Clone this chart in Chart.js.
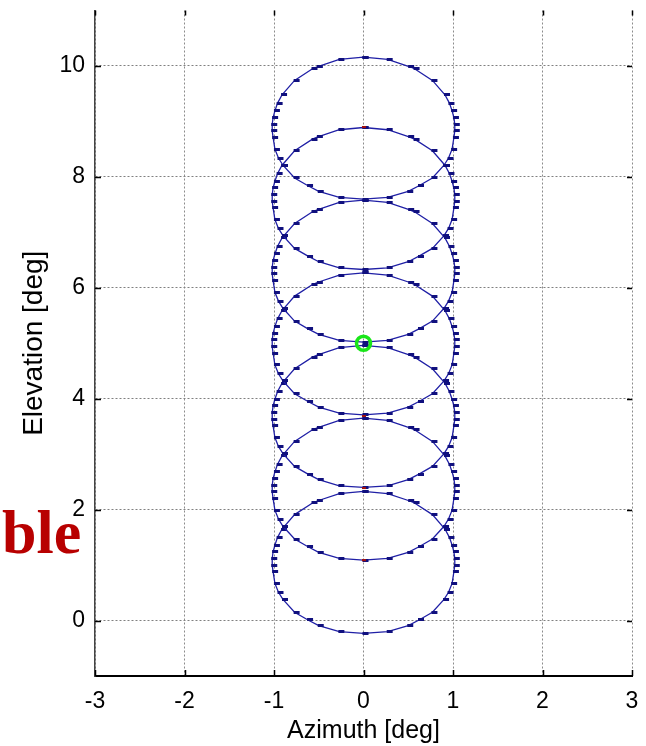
<!DOCTYPE html>
<html>
<head>
    <title>Scan Pattern</title>
    <script src="https://cdn.jsdelivr.net/npm/chart.js"></script>
    <style>
        body { margin: 0; background: #fff; }
    </style>
</head>
<body>
    <canvas id="myChart" width="646" height="746"></canvas>

    <script>
        // axis ticks
        const azTicks = [-3, -2, -1, 0, 1, 2, 3];
        const elTicks = [0, 2, 4, 6, 8, 10];

        // elevation of each scan loop centre, top to bottom
        const loopCenters = [8.89, 7.62, 6.31, 5.00, 3.69, 2.38, 1.06];

        // one scan loop as offsets from its centre (deg), clockwise from the top
        const loopAz = [0.00, 0.27, 0.51, 0.57, 0.77, 0.91, 0.96, 0.99, 1.01, 1.02, 1.02, 1.01, 0.99, 0.95, 0.90,
                        0.77, 0.62, 0.50, 0.27, 0.00, -0.27, -0.50, -0.62, -0.77, -0.90, -0.95, -0.99, -1.01,
                        -1.02, -1.02, -1.01, -0.99, -0.96, -0.91, -0.77, -0.57, -0.51, -0.27, 0.00];
        const loopEl = [1.27, 1.23, 1.10, 1.06, 0.85, 0.59, 0.44, 0.30, 0.18, 0.06, -0.06, -0.18, -0.39, -0.55, -0.68,
                        -0.91, -1.05, -1.15, -1.26, -1.29, -1.26, -1.15, -1.05, -0.91, -0.68, -0.55, -0.39, -0.18,
                        -0.06, 0.06, 0.18, 0.30, 0.44, 0.59, 0.85, 1.06, 1.10, 1.23, 1.27];

        // loop start samples
        const startAz = [0, 0, 0, 0];
        const startEl = [8.89, 3.68, 2.38, 1.08];

        // boresight
        const boreAz = [0];
        const boreEl = [5.0];

        const lineBlue = '#2020a6';

        // small dash marker for the scan samples
        const dash = document.createElement('canvas');
        dash.width = 12;
        dash.height = 3;
        const dctx = dash.getContext('2d');
        dctx.fillStyle = '#10107e';
        dctx.fillRect(5, 0, 6, 3);

        const redDot = document.createElement('canvas');
        redDot.width = 4;
        redDot.height = 3;
        const rctx = redDot.getContext('2d');
        rctx.fillStyle = '#a01010';
        rctx.fillRect(0, 0, 4, 2);

        const toPoints = (xs, ys) => xs.map((x, i) => ({ x: x, y: ys[i] }));

        const loopSets = loopCenters.map(c => ({
            data: loopAz.map((dx, i) => ({ x: dx, y: c + loopEl[i] })),
            showLine: true,
            borderColor: lineBlue,
            borderWidth: 1.3,
            pointStyle: dash,
            pointRadius: 3,
            tension: 0
        }));

        // inward tick marks on all four sides plus the stray caption on the left
        const frame = {
            id: 'frame',
            afterDraw(chart) {
                const { ctx, chartArea: a, scales } = chart;
                ctx.save();
                ctx.strokeStyle = '#000';
                ctx.lineWidth = 1.5;
                ctx.beginPath();
                azTicks.forEach(v => {
                    const px = Math.round(scales.x.getPixelForValue(v)) + 0.5;
                    ctx.moveTo(px, a.bottom);
                    ctx.lineTo(px, a.bottom - 6);
                    ctx.moveTo(px, a.top);
                    ctx.lineTo(px, a.top + 5);
                });
                elTicks.forEach(v => {
                    const py = Math.round(scales.y.getPixelForValue(v)) + 0.5;
                    ctx.moveTo(a.left, py);
                    ctx.lineTo(a.left + 6, py);
                    ctx.moveTo(a.right, py);
                    ctx.lineTo(a.right - 5, py);
                });
                ctx.stroke();

                ctx.fillStyle = '#b80000';
                ctx.font = 'bold 62px "Liberation Serif"';
                ctx.textBaseline = 'alphabetic';
                ctx.fillText('ble', 2, 553);
                ctx.restore();
            }
        };

        const ctx = document.getElementById('myChart').getContext('2d');
        const myChart = new Chart(ctx, {
            type: 'scatter',
            data: {
                datasets: [
                    {
                        data: toPoints(boreAz, boreEl),
                        pointStyle: 'circle',
                        pointRadius: 7,
                        pointBorderWidth: 3.5,
                        pointBorderColor: '#19e619',
                        pointBackgroundColor: 'rgba(0,0,0,0)'
                    },
                    {
                        data: toPoints(startAz, startEl),
                        pointStyle: redDot,
                        pointRadius: 2
                    },
                    ...loopSets
                ]
            },
            options: {
                responsive: false,
                animation: false,
                layout: { padding: { top: 9, right: 14, left: 0, bottom: 0 } },
                plugins: {
                    legend: { display: false },
                    tooltip: { enabled: false }
                },
                scales: {
                    x: {
                        type: 'linear',
                        min: -3,
                        max: 3,
                        afterBuildTicks: s => { s.ticks = azTicks.map(v => ({ value: v })); },
                        afterFit: s => { s.height = 70; s.paddingLeft = 0; s.paddingRight = 0; },
                        grid: { color: '#8c8c8c', lineWidth: 1, drawTicks: false },
                        border: { display: true, color: '#000', width: 2, dash: [2, 2] },
                        ticks: {
                            color: '#000',
                            padding: 12,
                            font: { family: 'Liberation Sans', size: 23 }
                        },
                        title: {
                            display: true,
                            text: 'Azimuth [deg]',
                            color: '#000',
                            padding: { top: 0, bottom: 0 },
                            font: { family: 'Liberation Sans', size: 25 }
                        }
                    },
                    y: {
                        type: 'linear',
                        min: -1,
                        max: 11,
                        afterBuildTicks: s => { s.ticks = elTicks.map(v => ({ value: v })); },
                        afterFit: s => { s.width = 95; s.paddingTop = 0; s.paddingBottom = 0; },
                        grid: { color: '#808080', lineWidth: 1, drawTicks: false },
                        border: { display: true, color: '#444', width: 1.5, dash: [2, 2] },
                        ticks: {
                            color: '#000',
                            padding: 10,
                            font: { family: 'Liberation Sans', size: 23 }
                        },
                        title: {
                            display: true,
                            text: 'Elevation [deg]',
                            color: '#000',
                            padding: { top: 17, bottom: 0 },
                            font: { family: 'Liberation Sans', size: 28 }
                        }
                    }
                }
            },
            plugins: [frame]
        });
    </script>
</body>
</html>
